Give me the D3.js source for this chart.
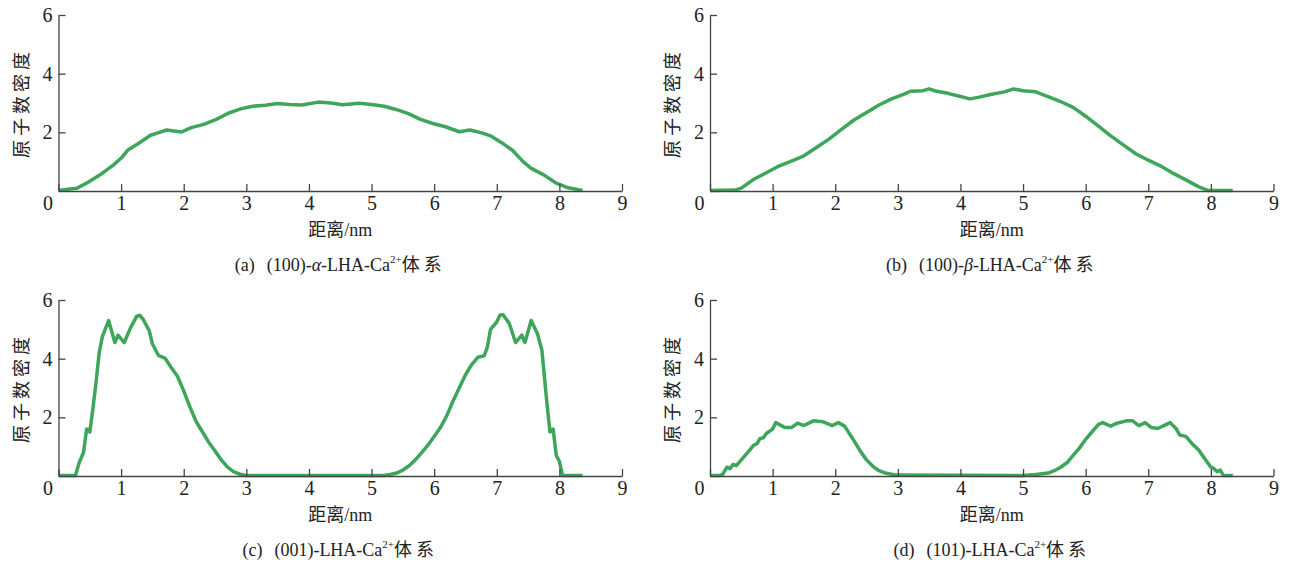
<!DOCTYPE html>
<html>
<head>
<meta charset="utf-8">
<script src="https://cdn.jsdelivr.net/npm/d3@7"></script>
<style>
  body { margin: 0; background: #fff; }
  text { font-family: "Liberation Serif", "Noto Sans CJK SC", serif; fill: #222; }
</style>
</head>
<body>
<script>
// distance (nm) and atomic number density
const distA = [0, 0.15, 0.29, 0.46, 0.69, 0.88, 1.01, 1.11, 1.27, 1.47, 1.6, 1.73, 1.96, 2.12, 2.32, 2.52, 2.71, 2.91, 3.1, 3.3, 3.5, 3.69, 3.89, 4.15, 4.35, 4.54, 4.8, 5.0, 5.2, 5.39, 5.59, 5.78, 5.98, 6.18, 6.4, 6.57, 6.76, 6.9, 7.09, 7.25, 7.42, 7.55, 7.75, 7.94, 8.14, 8.37];
const densA = [0.02, 0.06, 0.09, 0.28, 0.59, 0.89, 1.14, 1.4, 1.61, 1.9, 1.99, 2.08, 2.01, 2.16, 2.27, 2.44, 2.65, 2.8, 2.89, 2.92, 2.98, 2.95, 2.93, 3.03, 3.0, 2.94, 2.99, 2.95, 2.89, 2.78, 2.64, 2.44, 2.3, 2.19, 2.02, 2.08, 1.98, 1.88, 1.63, 1.39, 1.0, 0.77, 0.55, 0.28, 0.11, 0.02];

const distB = [0, 0.4, 0.5, 0.7, 0.9, 1.1, 1.3, 1.5, 1.7, 1.9, 2.1, 2.3, 2.5, 2.7, 2.9, 3.1, 3.2, 3.4, 3.5, 3.6, 3.8, 4.0, 4.15, 4.3, 4.5, 4.7, 4.85, 5.0, 5.2, 5.4, 5.6, 5.8, 6.0, 6.2, 6.4, 6.6, 6.8, 7.0, 7.2, 7.4, 7.6, 7.8, 7.95, 8.35];
const densB = [0.02, 0.03, 0.1, 0.4, 0.62, 0.85, 1.02, 1.2, 1.48, 1.77, 2.1, 2.42, 2.68, 2.93, 3.14, 3.3, 3.4, 3.42, 3.48, 3.41, 3.33, 3.22, 3.14, 3.2, 3.3, 3.38, 3.48, 3.42, 3.38, 3.22, 3.05, 2.85, 2.55, 2.22, 1.88, 1.57, 1.27, 1.05, 0.85, 0.6, 0.38, 0.15, 0.02, 0.02];

const distC = [0, 0.27, 0.33, 0.4, 0.45, 0.5, 0.55, 0.6, 0.65, 0.7, 0.8, 0.9, 0.95, 1.05, 1.15, 1.25, 1.3, 1.35, 1.45, 1.5, 1.6, 1.7, 1.8, 1.9, 2.0, 2.1, 2.2, 2.3, 2.4, 2.5, 2.6, 2.7, 2.8, 2.9, 3.0, 5.2, 5.3, 5.4, 5.5, 5.6, 5.7, 5.8, 5.9, 6.0, 6.1, 6.2, 6.3, 6.4, 6.5, 6.6, 6.7, 6.8, 6.85, 6.9, 7.0, 7.05, 7.1, 7.2, 7.3, 7.4, 7.45, 7.55, 7.65, 7.72, 7.8, 7.85, 7.9, 7.95, 8.0, 8.05, 8.37];
const densC = [0.02, 0.02, 0.45, 0.8, 1.6, 1.5, 2.3, 3.2, 4.2, 4.75, 5.3, 4.55, 4.8, 4.55, 5.05, 5.45, 5.48, 5.35, 4.95, 4.5, 4.1, 4.02, 3.7, 3.4, 2.9, 2.35, 1.85, 1.5, 1.15, 0.85, 0.55, 0.3, 0.14, 0.06, 0.02, 0.02, 0.05, 0.1, 0.2, 0.35, 0.55, 0.8, 1.05, 1.35, 1.65, 2.05, 2.55, 3.0, 3.45, 3.8, 4.05, 4.1, 4.4, 5.0, 5.25, 5.48, 5.5, 5.2, 4.55, 4.8, 4.55, 5.3, 4.85, 4.3, 2.5, 1.5, 1.6, 0.7, 0.5, 0.02, 0.02];

const distD = [0, 0.15, 0.2, 0.27, 0.32, 0.37, 0.42, 0.5, 0.6, 0.7, 0.75, 0.8, 0.85, 0.9, 1.0, 1.05, 1.2, 1.3, 1.4, 1.5, 1.65, 1.8, 1.95, 2.05, 2.15, 2.3, 2.4, 2.5, 2.6, 2.7, 2.8, 2.9, 3.0, 5.0, 5.2, 5.4, 5.5, 5.6, 5.7, 5.8, 5.9, 6.0, 6.1, 6.2, 6.27, 6.4, 6.5, 6.65, 6.75, 6.85, 6.95, 7.05, 7.15, 7.25, 7.35, 7.45, 7.5, 7.6, 7.7, 7.8, 7.9, 8.0, 8.05, 8.1, 8.15, 8.2, 8.35];
const densD = [0.02, 0.02, 0.05, 0.3, 0.25, 0.4, 0.35, 0.55, 0.8, 1.05, 1.1, 1.28, 1.3, 1.45, 1.6, 1.82, 1.65, 1.65, 1.8, 1.72, 1.88, 1.85, 1.72, 1.82, 1.7, 1.2, 0.85, 0.55, 0.33, 0.18, 0.1, 0.06, 0.03, 0.02, 0.05, 0.1, 0.18, 0.3, 0.45, 0.7, 0.95, 1.25, 1.5, 1.75, 1.82, 1.7, 1.8, 1.88, 1.88, 1.72, 1.82, 1.65, 1.62, 1.72, 1.82, 1.6, 1.4, 1.35, 1.1, 0.9, 0.6, 0.3, 0.25, 0.15, 0.2, 0.02, 0.02];

const xTicks = [0, 1, 2, 3, 4, 5, 6, 7, 8, 9];
const yTicks = [2, 4, 6];
const yTitle = "原子数密度";
const xTitle = "距离/nm";

// caption pieces: label, crystal face, greek prefix (italic or empty)
const captions = [
  ["(a)", "(100)-", "α"],
  ["(b)", "(100)-", "β"],
  ["(c)", "(001)-", ""],
  ["(d)", "(101)-", ""]
];

const panels = [
  { x: distA, y: densA, left: 58.5, top: 15 },
  { x: distB, y: densB, left: 710, top: 15 },
  { x: distC, y: densC, left: 58.5, top: 300 },
  { x: distD, y: densD, left: 710, top: 300 }
];

const plotW = 563.5, plotH = 176;
const lineColor = "#3ea65a";

const svg = d3.select("body").append("svg")
    .attr("width", 1294)
    .attr("height", 563);

panels.forEach(function (p, i) {
    const g = svg.append("g")
        .attr("transform", "translate(" + p.left + "," + p.top + ")");

    const x = d3.scaleLinear().domain([0, 9]).range([0, plotW]);
    const y = d3.scaleLinear().domain([0, 6]).range([plotH, 0]);

    // curve first so the axes sit on top like the original
    const pts = p.x.map(function (d, k) { return [d, p.y[k]]; });
    g.append("path")
        .datum(pts)
        .attr("fill", "none")
        .attr("stroke", lineColor)
        .attr("stroke-width", 3.5)
        .attr("stroke-linejoin", "round")
        .attr("d", d3.line()
            .x(function (d) { return x(d[0]); })
            .y(function (d) { return y(d[1]); }));

    const xAxis = g.append("g")
        .attr("transform", "translate(0," + plotH + ")")
        .call(d3.axisBottom(x).tickValues(xTicks).tickFormat(d3.format("d"))
            .tickSizeInner(-7).tickSizeOuter(0).tickPadding(5));
    xAxis.selectAll("text")
        .attr("dx", function (d) { return d === 0 ? -11 : 0; });

    const yAxis = g.append("g")
        .call(d3.axisLeft(y).tickValues(yTicks).tickFormat(d3.format("d"))
            .tickSizeInner(-7).tickSizeOuter(0).tickPadding(6));

    [xAxis, yAxis].forEach(function (a) {
        a.attr("font-family", null).attr("font-size", null);
        a.select(".domain").attr("stroke", "#444").attr("stroke-width", 1.3);
        a.selectAll(".tick line").attr("stroke", "#444").attr("stroke-width", 1.3);
        a.selectAll("text").attr("fill", "#222").style("font-family", "'Liberation Serif', serif").style("font-size", "20px");
    });

    // y title, rotated
    g.append("text")
        .attr("transform", "translate(" + (-37) + "," + (plotH / 2) + ") rotate(-90)")
        .attr("text-anchor", "middle")
        .attr("dominant-baseline", "central")
        .attr("font-size", 18)
        .attr("letter-spacing", 4)
        .text(yTitle);

    // x title
    g.append("text")
        .attr("x", plotW / 2)
        .attr("y", plotH + 45)
        .attr("text-anchor", "middle")
        .attr("font-size", 18)
        .text(xTitle);

    // caption
    const c = captions[i];
    const cap = g.append("text")
        .attr("x", plotW / 2)
        .attr("y", plotH + 80)
        .attr("text-anchor", "middle")
        .attr("font-size", 18);
    cap.append("tspan").text(c[0]);
    cap.append("tspan").attr("dx", 12).text(c[1]);
    if (c[2]) {
        cap.append("tspan").attr("font-style", "italic").text(c[2]);
        cap.append("tspan").text("-");
    }
    cap.append("tspan").text("LHA-Ca");
    cap.append("tspan").attr("font-size", 11).attr("dy", -8).text("2+");
    cap.append("tspan").attr("dy", 8).attr("letter-spacing", 4).text("体系");
});
</script>
</body>
</html>
